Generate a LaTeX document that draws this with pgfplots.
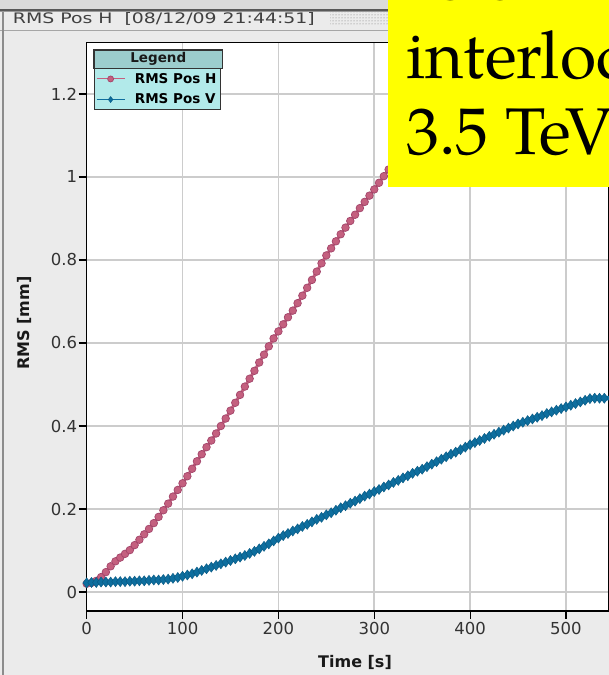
\documentclass[border=0pt]{standalone}
\usepackage{fontspec}
\newfontfamily\dejavu{DejaVu Sans}
\newfontfamily\pagella{TeX Gyre Pagella}
\usepackage{pgfplots}
\usepackage{pgfplotstable}
\pgfplotsset{compat=1.18}
\usetikzlibrary{patterns}

\definecolor{hpink}{HTML}{C4607F}
\definecolor{hpinkd}{HTML}{A3456A}
\definecolor{vblue}{HTML}{0E6E9E}
\definecolor{vblued}{HTML}{0A5C86}
\definecolor{panel}{HTML}{EBEBEB}
\definecolor{gridc}{HTML}{CCCCCC}
\definecolor{leghead}{HTML}{9CCDCD}
\definecolor{legbody}{HTML}{B2EAEA}
\definecolor{hiyellow}{HTML}{FFFF00}

\pgfplotstableread{
t v
0 0.020
5 0.022
10 0.027
15 0.036
20 0.048
25 0.062
30 0.074
35 0.083
40 0.092
45 0.101
50 0.113
55 0.126
60 0.139
65 0.152
70 0.166
75 0.181
80 0.197
85 0.213
90 0.230
95 0.246
100 0.262
105 0.279
110 0.297
115 0.315
120 0.332
125 0.349
130 0.365
135 0.382
140 0.400
145 0.418
150 0.437
155 0.456
160 0.475
165 0.495
170 0.514
175 0.533
180 0.553
185 0.572
190 0.592
195 0.611
200 0.628
205 0.645
210 0.662
215 0.678
220 0.696
225 0.714
230 0.733
235 0.752
240 0.772
245 0.792
250 0.811
255 0.828
260 0.845
265 0.862
270 0.878
275 0.894
280 0.909
285 0.925
290 0.940
295 0.955
300 0.970
305 0.986
310 1.002
315 1.018
320 1.034
}\Htab

\pgfplotstableread{
t v
0 0.022
5 0.023
10 0.023
15 0.024
20 0.024
25 0.024
30 0.025
35 0.025
40 0.025
45 0.026
50 0.026
55 0.027
60 0.027
65 0.028
70 0.029
75 0.029
80 0.030
85 0.031
90 0.033
95 0.035
100 0.038
105 0.041
110 0.044
115 0.048
120 0.052
125 0.056
130 0.060
135 0.064
140 0.068
145 0.072
150 0.076
155 0.080
160 0.084
165 0.088
170 0.093
175 0.098
180 0.104
185 0.110
190 0.116
195 0.123
200 0.130
205 0.136
210 0.141
215 0.147
220 0.152
225 0.158
230 0.163
235 0.169
240 0.175
245 0.180
250 0.186
255 0.191
260 0.197
265 0.203
270 0.208
275 0.214
280 0.219
285 0.225
290 0.231
295 0.236
300 0.242
305 0.247
310 0.253
315 0.258
320 0.264
325 0.269
330 0.275
335 0.280
340 0.286
345 0.291
350 0.296
355 0.302
360 0.308
365 0.314
370 0.320
375 0.326
380 0.332
385 0.337
390 0.343
395 0.349
400 0.355
405 0.360
410 0.365
415 0.370
420 0.375
425 0.380
430 0.385
435 0.390
440 0.395
445 0.400
450 0.405
455 0.409
460 0.413
465 0.417
470 0.421
475 0.425
480 0.430
485 0.434
490 0.438
495 0.442
500 0.446
505 0.450
510 0.454
515 0.458
520 0.462
525 0.466
530 0.467
535 0.467
540 0.467
545 0.467
}\Vtab

\begin{document}
\begin{tikzpicture}
\useasboundingbox (0pt,0pt) rectangle (609pt,675pt);
\clip (0pt,0pt) rectangle (609pt,675pt);
% window chrome
\fill[panel] (0pt,0pt) rectangle (609pt,675pt);
\fill[black!14] (0pt,666pt) rectangle (609pt,675pt);
\fill[black!65] (0pt,663.5pt) rectangle (609pt,666pt);
\fill[black!40] (0pt,662.5pt) rectangle (609pt,663.5pt);
\draw[color=black!35, line width=1pt] (0pt,644.3pt) -- (609pt,644.3pt);
\draw[color=black!45, line width=2pt] (3pt,0pt) -- (3pt,663pt);
\fill[pattern=dots, pattern color=black!55] (330pt,649pt) rectangle (388pt,662pt);
\node[anchor=base west, inner sep=0pt, text=black!75] at (12.7pt,651pt)
  {\resizebox{302pt}{\height}{\dejavu\fontsize{14.5}{16}\selectfont RMS Pos H\ \ [08/12/09 21:44:51]}};

\begin{axis}[
  at={(86.7pt,64.3pt)}, anchor=south west,
  scale only axis, width=522.3pt, height=568.2pt,
  xmin=0, xmax=544.9, ymin=-0.045, ymax=1.324,
  axis background/.style={fill=white},
  xtick={0,100,200,300,400,500},
  xticklabels={0,100,200,300,400,500},
  ytick={0,0.2,0.4,0.6,0.8,1,1.2},
  yticklabels={0,0.2,0.4,0.6,0.8,1,1.2},
  /pgf/number format/assume math mode=true,
  grid=major, grid style={gridc, line width=1.6pt},
  axis line style={black, line width=1.6pt},
  tick align=outside, tick pos=left, major tick length=8pt,
  tick style={black, line width=1.2pt},
  ticklabel style={font=\dejavu\fontsize{16.5}{18}\selectfont, text=black!80},
  yticklabel style={xshift=2pt},
  xlabel={Time [s]}, ylabel={RMS [mm]},
  label style={font=\dejavu\bfseries\fontsize{16}{18}\selectfont, text=black!90},
  xlabel style={at={(axis description cs:0.5137,-0.0991)}, anchor=base},
  ylabel style={at={(axis description cs:-0.1100,0.5063)}, anchor=base},
  legend style={at={(axis description cs:0.014,0.9546)}, anchor=north west,
    fill=legbody, draw=black!80, line width=1.2pt,
    font=\dejavu\bfseries\fontsize{13.5}{15}\selectfont,
    inner sep=1.5pt, row sep=3.5pt, nodes={inner sep=2.8pt},
    /tikz/every odd column/.append style={column sep=7pt}},
  legend cell align=left,
  legend image code/.code={\draw[line width=1pt, mark repeat=2, mark phase=2, mark size=3pt]
     plot coordinates {(0pt,0pt) (14pt,0pt) (28pt,0pt)};},
]
\addplot[hpink, line width=3pt, mark=*, mark size=3.8pt,
  mark options={fill=hpink, draw=hpinkd, line width=0.7pt}] table[x=t,y=v] {\Htab};
\addlegendentry{RMS Pos H}
\addplot[vblue, line width=4.5pt, mark=diamond*, mark size=5pt,
  mark options={fill=vblue, draw=vblued, line width=0.5pt}] table[x=t,y=v] {\Vtab};
\addlegendentry{RMS Pos V}
\end{axis}

% legend header
\draw[fill=leghead, draw=black!80, line width=1.2pt] (94pt,625pt) rectangle (222.7pt,606.7pt);
\node[font=\dejavu\bfseries\fontsize{13.5}{15}\selectfont, text=black!90] at (158.3pt,615.8pt) {Legend};
% yellow annotation box
\fill[hiyellow] (387.5pt,488.3pt) rectangle (620pt,680pt);
\node[anchor=base west, inner sep=0pt, font=\pagella\fontsize{66}{76}\selectfont] at (406pt,675pt) {as cannot};
\node[anchor=base west, inner sep=0pt, font=\pagella\fontsize{66}{76}\selectfont] at (406pt,596pt) {interlock};
\node[anchor=base west, inner sep=0pt, font=\pagella\fontsize{66}{76}\selectfont] at (406pt,520pt) {3.5 TeV};
\end{tikzpicture}
\end{document}
